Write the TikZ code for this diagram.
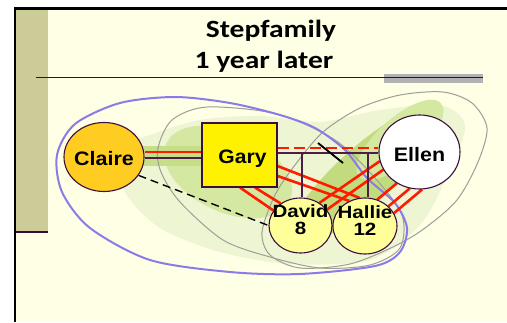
\documentclass[tikz,border=0pt]{standalone}
\usepackage{graphicx}
\usepackage{fontspec}
\setmainfont{Liberation Sans}
\newfontfamily\titlefont{Carlito}
\usetikzlibrary{shapes.geometric,calc}
\pgfdeclarelayer{back}
\pgfdeclarelayer{edges}
\pgfsetlayers{back,edges,main}
\definecolor{bgy}{HTML}{FFFFE5}
\definecolor{barc}{HTML}{CCCC99}
\definecolor{rulec}{HTML}{3A0A3A}
\definecolor{graybar}{HTML}{B2B2B2}
\definecolor{clairec}{HTML}{FFCC22}
\definecolor{kidc}{HTML}{FFFF99}
\definecolor{nline}{HTML}{3D0D3D}
\definecolor{tiec}{HTML}{4A2045}
\definecolor{bluel}{HTML}{8A7BE8}
\definecolor{grayl}{HTML}{9E9E96}
\definecolor{redl}{HTML}{FF1A00}
\definecolor{paleg}{HTML}{EEF5D3}
\definecolor{midg}{HTML}{D4E8A2}
\definecolor{darkg}{HTML}{C2DB7E}
\definecolor{bandg}{HTML}{C6DE88}
\tikzset{
  person/.style={ellipse, draw=nline, line width=1.1pt, inner sep=0pt},
  ntext/.style={font=\bfseries\fontsize{19.5}{20}\selectfont, inner sep=0pt},
  ktext/.style={font=\bfseries\fontsize{17.7}{17}\selectfont, align=center, inner sep=0pt},
  titletext/.style={anchor=base, inner sep=0pt, font=\titlefont\bfseries\fontsize{24.8}{28}\selectfont},
  redln/.style={draw=redl, line width=2.6pt},
  tie/.style={draw=tiec, line width=1.6pt},
  grayloop/.style={draw=grayl, line width=1pt},
  blueloop/.style={draw=bluel, line width=2pt},
  cutoff/.style={draw=black, line width=1.8pt},
  contact/.style={draw=black, line width=1.4pt, dash pattern=on 8pt off 5pt},
}
\begin{document}
\begin{tikzpicture}[x=1pt,y=-1pt]
\useasboundingbox (0,0) rectangle (507,322);
% nodes
\node[person, fill=clairec, minimum width=80, minimum height=69,
  label={[ntext,yshift=-1.9pt]center:{\scalebox{1.1}[1]{Claire}}}] (claire) at (104,157) {};
\node[rectangle, draw=nline, line width=1.1pt, fill=yellow, minimum width=75, minimum height=64, inner sep=0pt,
  label={[ntext,yshift=-4pt,xshift=3pt]center:{\scalebox{1.08}[1]{Gary}}}] (gary) at (239.5,155) {};
\node[person, fill=white, minimum width=81, minimum height=74,
  label={[ntext,yshift=-2.9pt]center:{\scalebox{1.1}[1]{Ellen}}}] (ellen) at (419.5,152) {};
\node[person, fill=kidc, minimum width=63, minimum height=55,
  label={[ktext,yshift=5.5pt]center:{\scalebox{1.16}[1]{David}\\\scalebox{1.16}[1]{8}}}] (david) at (300.5,225.5) {};
\node[person, fill=kidc, minimum width=64, minimum height=56,
  label={[ktext,yshift=5pt]center:{\scalebox{1.16}[1]{Hallie}\\\scalebox{1.16}[1]{12}}}] (hallie) at (365,226) {};
% titles
\node[titletext] (title1) at (271,37.7) {\scalebox{1.19}[1]{Stepfamily}};
\node[titletext] (title2) at (264,68.3) {\scalebox{1.19}[1]{1 year later}};

\begin{pgfonlayer}{back}
  \fill[white] (0,0) rectangle (507,322);
  \fill[bgy] (15,8.7) rectangle (507,322);
  \fill[barc] (16,10) rectangle (48,232);
  \draw[rulec, line width=1.3pt] (16,232) -- (48,232);
  \draw[black, line width=2pt] (15,322) -- (15,8.7);
  \draw[black, line width=2.7pt] (14,8.7) -- (507,8.7);
  \fill[graybar] (384,74) rectangle (483,82.7);
  \draw[rulec, line width=0.8pt] (36,77.3) -- (483,77.3);
  % green shading
  \fill[paleg] plot[smooth cycle] coordinates {(118,150) (150,135) (200,120) (260,116) (320,122) (380,110) (440,105) (465,125) (450,170) (420,225) (370,260) (290,264) (220,252) (160,228) (125,192)};
  \fill[midg, rotate around={-25:(228,172)}] (228,172) ellipse [x radius=68, y radius=40];
  \fill[darkg, rotate around={42:(365,175)}] (365,175) ellipse [x radius=100, y radius=28];
  \fill[midg, rotate around={42:(400,140)}] (400,140) ellipse [x radius=55, y radius=22];
  \fill[bandg] (140,146) rectangle (205,166);
  % gray loops
  \draw[grayloop] plot[smooth cycle] coordinates {(158,148) (172,120) (207,107) (277,114) (335,140) (375,178) (402,215) (400,248) (370,265) (320,268) (270,257) (223,240) (180,202) (161,172)};
  \draw[grayloop] plot[smooth cycle] coordinates {(262,232) (275,195) (295,165) (323,132) (360,108) (400,95) (443,92) (472,103) (487,128) (478,162) (457,200) (425,228) (395,246) (350,264) (300,268) (270,255)};
  % blue loop
  \draw[blueloop] plot[smooth cycle] coordinates {(57,155) (75,124) (120,103) (175,97) (230,103) (280,115) (315,128) (345,150) (367,178) (395,203) (407,228) (400,252) (375,266) (300,274) (230,272) (150,260) (90,228) (62,192)};
\end{pgfonlayer}

\begin{pgfonlayer}{edges}
  \draw[tie] ([yshift=-3pt]gary.west) -- ([yshift=-3pt]gary.west -| claire.east);
  \draw[redln] ([yshift=3pt]gary.west) -- ([yshift=3pt]gary.west -| claire.east);
  \coordinate (gl) at ([yshift=2pt]gary.east);
  \coordinate (el) at (gl -| ellen.west);
  \coordinate (gd) at ([yshift=7pt]gary.east);
  \coordinate (ed) at (gd -| ellen.west);
  \coordinate (dtop) at ([xshift=1.5pt]david.north);
  \coordinate (htop) at ([xshift=3pt]hallie.north);
  \coordinate (div) at ($(gl)!0.5!(el)$);
  \draw[redln] ([xshift=0.5pt]gary.south) -- (david.151);
  \draw[redln] ([xshift=15.5pt]gary.south) -- (david.132);
  \draw[redln] ([yshift=-11pt]gary.east) -- (hallie.101);
  \draw[redln] ([yshift=-21pt]gary.east) -- (hallie.122);
  \draw[redln] (ellen.193) -- (david.50);
  \draw[redln] (ellen.206) -- (david.31);
  \draw[redln] (ellen.234) -- (hallie.65);
  \draw[redln] (ellen.255) -- (hallie.40);
  \draw[redln] (ellen.274) -- (hallie.24);
  \draw[tie] (gl) -- (el);
  \draw[tie] (dtop |- gl) -- (dtop);
  \draw[tie] (htop |- gl) -- (htop);
  \draw[redln, dash pattern=on 11pt off 5pt] (gd) -- (ed);
  \draw[cutoff] ([shift={(-10,-10)}]div) -- ([shift={(15,10)}]div);
  \draw[contact] (claire.-28) -- (david.west);
\end{pgfonlayer}
\end{tikzpicture}
\end{document}
